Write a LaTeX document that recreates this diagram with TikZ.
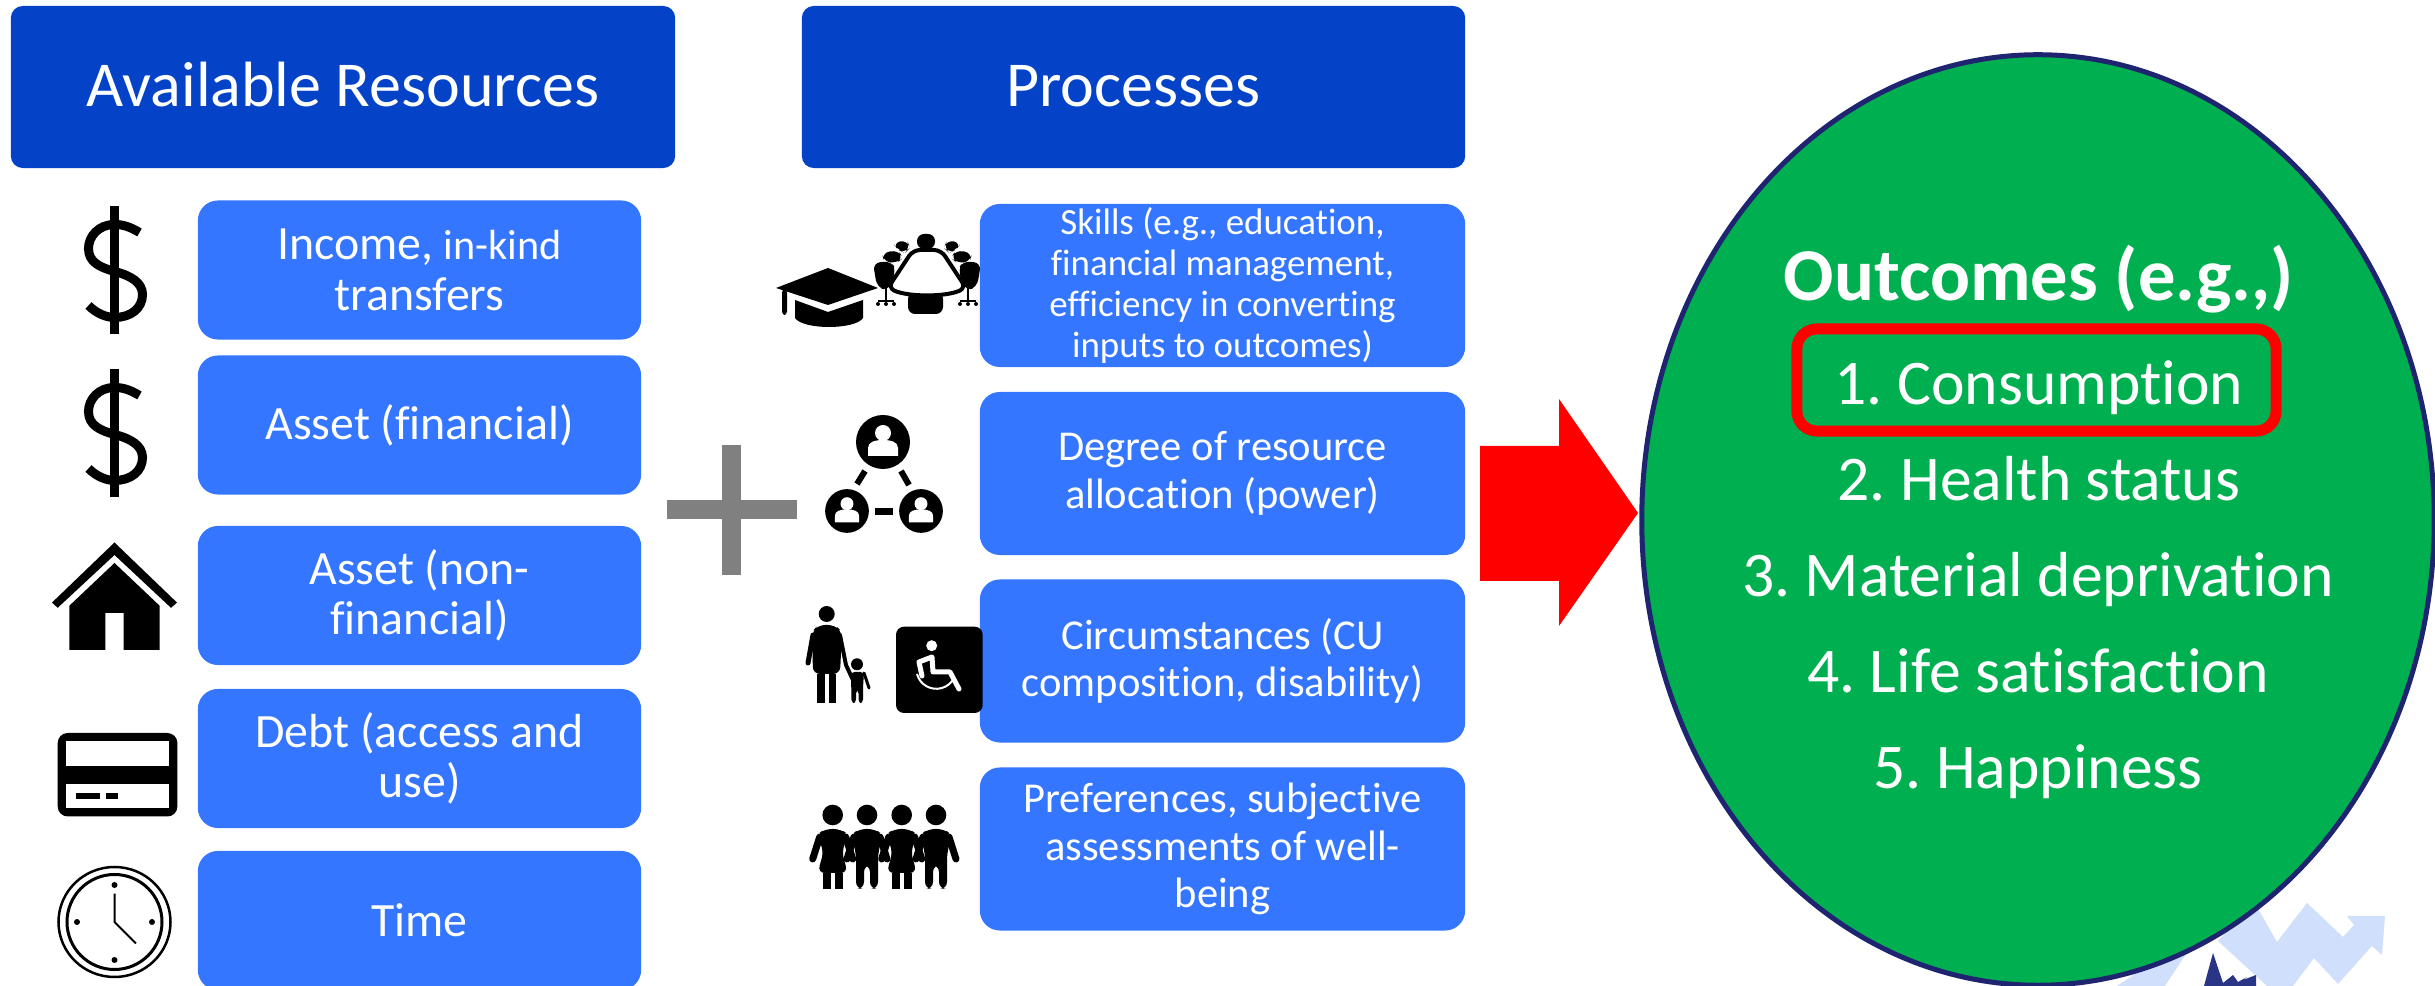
\documentclass[tikz,border=0pt]{standalone}
\usepackage{fontspec}
\setmainfont{Carlito}[Ligatures=NoCommon]
\usetikzlibrary{positioning, shapes.geometric}
\frenchspacing

\definecolor{headblue}{HTML}{0443C8}
\definecolor{boxblue}{HTML}{3476FF}
\definecolor{ovalgreen}{HTML}{00AF50}
\definecolor{ovalline}{HTML}{1F2470}
\definecolor{logolight}{HTML}{CFDFFC}
\definecolor{logodark}{HTML}{2B3585}

\tikzset{
    headbox/.style={rectangle, rounded corners=1.2mm, fill=headblue, text=white, align=center, inner sep=0pt, minimum height=1.62cm, text height=12pt, text depth=1.1pt, font=\fontsize{18.2}{22}\selectfont},
    resbox/.style={rectangle, rounded corners=2mm, fill=boxblue, text=white, align=center, inner sep=0pt, minimum width=4.43cm, minimum height=1.39cm, font=\fontsize{13.6}{14.4}\selectfont},
    procbox/.style={rectangle, rounded corners=2mm, fill=boxblue, text=white, align=center, inner sep=0pt, minimum width=4.85cm, minimum height=1.63cm, font=\fontsize{12.1}{13.5}\selectfont},
    outtext/.style={anchor=base, text=white, align=center, inner sep=0pt, font=\fontsize{18.1}{20}\selectfont},
    % small icons, in the pixels of the picture
    pics/dollar/.style={code={
        \draw [line width=0.09cm] (0,-64) -- (0,64);
        \draw [line width=0.09cm] (25,-38) .. controls (15,-44) and (8,-46) .. (0,-46) .. controls (-16,-46) and (-26,-34) .. (-26,-22) .. controls (-26,-8) and (-14,-3) .. (0,1) .. controls (16,5) and (28,12) .. (28,24) .. controls (28,38) and (16,47) .. (0,47) .. controls (-8,47) and (-18,43) .. (-26,35);
    }},
    pics/netuser/.style={code={
        \fill [black] (0,0) circle [radius=27];
        \fill [white] (0,-9) circle [radius=8];
        \fill [white] (-15,14) -- (-15,6) .. controls (-15,0) and (-8,-2) .. (0,-2) .. controls (8,-2) and (15,0) .. (15,6) -- (15,14) -- cycle;
    }},
    pics/girl/.style={code={
        \fill (0,0) circle [radius=10.3];
        \draw [line width=0.07cm, line cap=round] (-13,22) -- (-20,44);
        \draw [line width=0.07cm, line cap=round] (13,22) -- (20,44);
        \fill [rounded corners=2pt] (-16,20) -- (-8,14) -- (8,14) -- (16,20) -- (9,36) -- (15,58) -- (-15,58) -- (-9,36) -- cycle;
        \fill (-10,58) rectangle (-2,74);
        \fill (2,58) rectangle (10,74);
    }},
    pics/boy/.style={code={
        \fill (0,0) circle [radius=10.3];
        \draw [line width=0.07cm, line cap=round] (-13,22) -- (-20,44);
        \draw [line width=0.07cm, line cap=round] (13,22) -- (20,44);
        \fill [rounded corners=2pt] (-16,20) -- (-8,14) -- (8,14) -- (16,20) -- (11,38) -- (11,74) -- (3,74) -- (3,50) -- (-3,50) -- (-3,74) -- (-11,74) -- (-11,38) -- cycle;
    }},
    pics/chairside/.style={code={
        \fill [rounded corners=2pt] (-54,263) -- (-36,261) -- (-31,270) -- (-39,291) -- (-50,287) -- cycle;
        \fill [rounded corners=2pt] (-45,253) -- (-29,250) -- (-24,258) -- (-30,263) -- (-43,262) -- cycle;
        \fill [rounded corners=2pt] (-34,243) -- (-20,240) -- (-17,248) -- (-22,253) -- (-29,250) -- cycle;
        \draw [line width=0.02cm] (-41,288) -- (-41,301) (-49,301) -- (-33,301);
        \fill (-49,304) circle [radius=2] (-41,304) circle [radius=2] (-33,304) circle [radius=2];
    }},
}

\begin{document}
\begin{tikzpicture}[x=0.01cm, y=-0.01cm]
    \clip (0,0) rectangle (2435,986);

    % logo behind the oval
    \fill [logolight] (2253,900) -- (2277,942) -- (2307,903) -- (2343,937) -- (2354,925) -- (2347,916) -- (2385,916) -- (2382,955) -- (2372,946) -- (2338,984) -- (2314,958) -- (2293,986) -- (2267,986) -- (2218,941) -- cycle;
    \fill [logolight] (2117,986) -- (2170,950) -- (2200,935) -- (2182,960) -- (2165,986) -- cycle;
    \fill [logodark] (2204,986) -- (2213,953) -- (2223,983) -- (2233,975) -- (2238,982) -- (2247,977) -- (2243,980) -- (2256,975) -- (2256,986) -- cycle;

    % headers
    \node [headbox, minimum width=6.64cm] (resources) at (343,87) {Available Resources};
    \node [headbox, minimum width=6.63cm] (processes) at (1133.5,87) {Processes};

    % available resources
    \node [resbox] (income) at (419.5,270) {Income, {\fontsize{12}{14.4}\selectfont in-kind}\\transfers};
    \node [resbox] (financial) at (419.5,425) {Asset (financial)};
    \node [resbox] (nonfinancial) at (419.5,595.5) {Asset (non-\\financial)};
    \node [resbox] (debt) at (419.5,758.5) {Debt (access and\\use)};
    \node [resbox] (time) at (419.5,920.5) {Time};

    % processes
    \node [procbox, font=\fontsize{10.5}{11.7}\selectfont] (skills) at (1222.5,285.5) {Skills (e.g., education,\\financial management,\\efficiency in converting\\inputs to outcomes)};
    \node [procbox] (power) at (1222.5,473.5) {Degree of resource\\allocation (power)};
    \node [procbox] (circumstances) at (1222.5,661) {Circumstances (CU\\composition, disability)};
    \node [procbox] (preferences) at (1222.5,849) {Preferences, subjective\\assessments of well-\\being};

    % plus and arrow
    \fill [gray] (667,500) rectangle (797,519);
    \fill [gray] (722,445) rectangle (741,575);
    \fill [red] (1480,446) -- (1559,446) -- (1559,399) -- (1638,513) -- (1559,626) -- (1559,581) -- (1480,581) -- cycle;

    % outcomes
    \node [ellipse, draw=ovalline, line width=0.05cm, fill=ovalgreen, inner sep=0pt, minimum width=7.92cm, minimum height=9.3cm] (outcomes) at (2038,520) {};
    \node [outtext, font=\fontsize{21.2}{24}\selectfont\bfseries] (outtitle) at (2039,301) {Outcomes (e.g.,)};
    \node [rectangle, draw=red, line width=0.11cm, rounded corners=2mm, minimum width=4.79cm, minimum height=1.02cm] (conbox) at (2036.5,380) {};
    \node [outtext] (consumption) at (2039,404.5) {1. Consumption};
    \node [outtext] (health) at (2039,500.5) {2. Health status};
    \node [outtext] (material) at (2038,596.5) {3. Material deprivation};
    \node [outtext] (satisfaction) at (2038,692.5) {4. Life satisfaction};
    \node [outtext] (happiness) at (2038,788.5) {5. Happiness};

    % resource icons
    \pic at (114.5,270.5) {dollar};
    \pic at (114.5,433.5) {dollar};
    \fill (114.5,542.5) -- (177,602.6) -- (171,607.8) -- (114.5,555) -- (57.7,607.8) -- (52,602.6) -- cycle;
    \fill (114.5,563) -- (159.6,605.7) -- (159.6,650) -- (123.6,650) -- (123.6,613) -- (105.4,613) -- (105.4,650) -- (69.4,650) -- (69.4,605.7) -- cycle;
    \fill [rounded corners=1mm] (57.7,733) rectangle (177.4,816.5);
    \fill [white] (66.3,741.5) rectangle (169,766);
    \fill [white] (66.3,784) rectangle (169,808);
    \fill (76,793) rectangle (100,799);
    \fill (106,793) rectangle (118,799);
    \draw [line width=0.025cm] (114.5,922) ellipse [x radius=56, y radius=55];
    \draw [line width=0.03cm] (114.5,922) circle [radius=47.5];
    \fill (114.5,885) circle [radius=3] (77,922) circle [radius=3] (152,922) circle [radius=3] (114.5,960) circle [radius=3];
    \draw [line width=0.02cm] (114.5,893.6) -- (114.5,922) -- (136,943.5);

    % process icons
    \fill (776,288) -- (828,268) -- (878,288) -- (828,305) -- cycle;
    \fill [rounded corners=1pt] (782,289) rectangle (787,315);
    \fill (795,300) -- (828,312) -- (863,300) -- (863,318) .. controls (855,330) and (803,330) .. (795,318) -- cycle;
    \fill [rounded corners=2pt] (917,234) rectangle (935,249);
    \fill [rounded corners=2pt] (908,292) rectangle (943,314);
    \pic at (927,0) {chairside};
    \pic [xscale=-1] at (927,0) {chairside};
    \filldraw [fill=white, draw=black, line width=0.04cm, rounded corners=2pt] (913,250) -- (941,250) -- (966,288) .. controls (945,297) and (909,297) .. (888,288) -- cycle;

    \pic at (883,442) {netuser};
    \pic [scale=0.81] at (847,511) {netuser};
    \pic [scale=0.81] at (921,511) {netuser};
    \draw [line width=0.06cm] (857,484) -- (865,471);
    \draw [line width=0.06cm] (901,471) -- (909,485);
    \draw [line width=0.07cm] (875,512) -- (893,512);

    \fill (826.7,614) circle [radius=8];
    \draw [line width=0.05cm, line cap=round] (813,635) -- (808,663);
    \draw [line width=0.04cm, line cap=round] (840,635) -- (846,665) -- (853,680);
    \fill [rounded corners=2pt] (812,632) -- (818,625) -- (835,625) -- (842,632) -- (840,674) -- (813,674) -- cycle;
    \fill (817,674) rectangle (825,703);
    \fill (829,674) rectangle (836,703);
    \fill (857,664.3) circle [radius=6];
    \draw [line width=0.03cm, line cap=round] (864,673) -- (869,688);
    \fill [rounded corners=1pt] (851,672) -- (864,672) -- (863,688) -- (863,703) -- (858.5,703) -- (858.5,690) -- (856,690) -- (856,703) -- (851.5,703) -- cycle;
    \fill [rounded corners=0.8mm] (896,626.7) rectangle (982.7,713);
    \fill [white] (931.7,645.7) circle [radius=5.5];
    \draw [white, line width=0.05cm, line cap=round, line join=round] (922,676) -- (919,662) -- (932,657) -- (933,672) -- (950,672) -- (959,689);
    \draw [white, line width=0.02cm] (917,674) arc [start angle=165, end angle=25, x radius=20, y radius=20];

    \pic at (832.7,815) {girl};
    \pic at (867,815) {boy};
    \pic at (901.7,815) {girl};
    \pic at (936,815) {boy};
\end{tikzpicture}
\end{document}
